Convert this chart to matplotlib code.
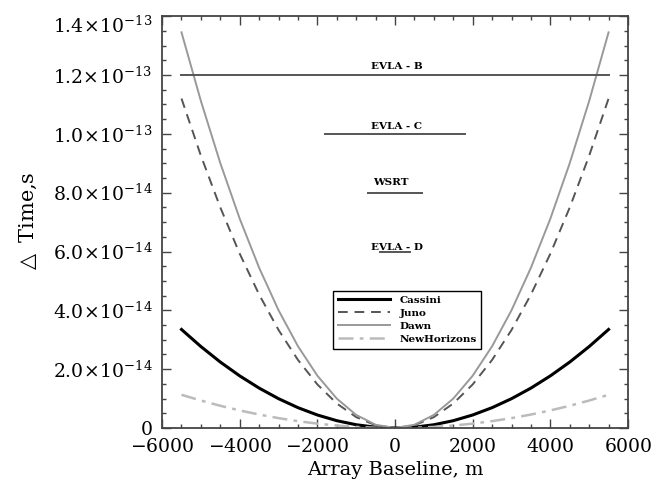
import matplotlib
matplotlib.use('Agg')
import matplotlib.pyplot as plt
import matplotlib.transforms as mtransforms
from matplotlib.ticker import MultipleLocator, FixedLocator, FuncFormatter

plt.rcParams['font.family'] = ['DejaVu Serif']
plt.rcParams['mathtext.fontset'] = 'dejavuserif'

# baseline samples (m), right half; curves are symmetric about 0
x_half = [0, 500, 1000, 1500, 2000, 2500, 3000, 3500, 4000, 4500, 5000, 5500]

# delay values (units of 1e-14 s)
cassini_half = [0, 0.028, 0.111, 0.249, 0.443, 0.692, 0.997, 1.357, 1.772, 2.242, 2.769, 3.35]
juno_half = [0, 0.093, 0.370, 0.833, 1.481, 2.314, 3.332, 4.536, 5.924, 7.497, 9.256, 11.2]
dawn_half = [0, 0.111, 0.445, 1.000, 1.778, 2.779, 4.002, 5.447, 7.114, 9.003, 11.115, 13.45]
newhorizons_half = [0, 0.009, 0.037, 0.084, 0.149, 0.233, 0.336, 0.458, 0.598, 0.756, 0.934, 1.13]

# array sensitivity levels: name, level (1e-14 s), half-length (m)
arrays = ['EVLA - B', 'EVLA - C', 'WSRT', 'EVLA - D']
array_levels = [12.0, 10.0, 8.0, 6.0]
array_halfwidth = [5500, 1800, 700, 380]

x_ticks = [-6000, -4000, -2000, 0, 2000, 4000, 6000]
y_ticks = [0, 2e-14, 4e-14, 6e-14, 8e-14, 1.0e-13, 1.2e-13, 1.4e-13]


def mirror(vals, neg=False):
    left = [-v for v in vals[::-1]] if neg else vals[::-1]
    return left + vals[1:]


x = mirror(x_half, neg=True)
scale = 1e-14

fig = plt.figure(figsize=(6.67, 4.9), dpi=100)
ax = fig.add_axes([0.243, 0.1265, 0.6985, 0.8405])

ax.plot(x, [v * scale for v in mirror(cassini_half)], color='black', lw=2.2, label='Cassini')
ax.plot(x, [v * scale for v in mirror(juno_half)], color='#555555', lw=1.4,
        dashes=(5, 3.5), label='Juno')
ax.plot(x, [v * scale for v in mirror(dawn_half)], color='#999999', lw=1.4, label='Dawn')
ax.plot(x, [v * scale for v in mirror(newhorizons_half)], color='#bbbbbb', lw=1.8,
        dashes=(6, 2.5, 1.5, 2.5), label='NewHorizons')

# horizontal array lines with their labels
offsets = [4.0, 3.6, 5.8, 0.8]
label_x = [50, 50, -100, 50]
for name, lev, hw, off, lx in zip(arrays, array_levels, array_halfwidth, offsets, label_x):
    ax.plot([-hw, hw], [lev * scale, lev * scale], color='#555555', lw=1.4)
    ax.annotate(name, (lx, lev * scale), xytext=(0, off), textcoords='offset points',
                ha='center', va='baseline', fontsize=7.5, fontweight='bold')

ax.set_xlim(-6000, 6000)
ax.set_ylim(0, 1.4e-13)

ax.xaxis.set_major_locator(FixedLocator(x_ticks))
ax.xaxis.set_minor_locator(MultipleLocator(500))
ax.yaxis.set_major_locator(FixedLocator(y_ticks))
ax.yaxis.set_minor_locator(MultipleLocator(5e-15))


def yfmt(v, pos):
    if abs(v) < 1e-20:
        return '0'
    exp = int(('%.1e' % v).split('e')[1])
    mant = v / 10 ** exp
    return r'$%.1f\!\times\!10^{%d}$' % (mant, exp)


def xfmt(v, pos):
    return r'$%d$' % v if v != 0 else '0'


ax.yaxis.set_major_formatter(FuncFormatter(yfmt))
ax.xaxis.set_major_formatter(FuncFormatter(xfmt))

ax.tick_params(which='both', direction='in', top=True, right=True, color='#444444')
ax.tick_params(which='major', length=6.5, width=1, labelsize=13.5, pad=7)
ax.tick_params(which='minor', length=3, width=1)
for sp in ax.spines.values():
    sp.set_color('#444444')
    sp.set_linewidth(1.3)

ax.set_xlabel('Array Baseline, m', fontsize=14)
ax.set_ylabel(r'$\triangle$ Time,s', fontsize=15, labelpad=10)

leg = ax.legend(loc='upper left', bbox_to_anchor=(0.356, 0.345), fancybox=False,
                edgecolor='black', framealpha=1, handlelength=5, handletextpad=0.9,
                labelspacing=0.35, borderpad=0.45, prop={'size': 7.5, 'weight': 'bold'})
leg.get_frame().set_linewidth(1.0)

# push the top y label down a little so it stays inside the figure
fig.canvas.draw()
for tick in ax.yaxis.get_major_ticks():
    if '1.4' in tick.label1.get_text():
        lab = tick.label1
        lab.set_transform(lab.get_transform() +
                          mtransforms.ScaledTranslation(0, -6 / 72, fig.dpi_scale_trans))

fig.savefig('out.png', dpi=100)
